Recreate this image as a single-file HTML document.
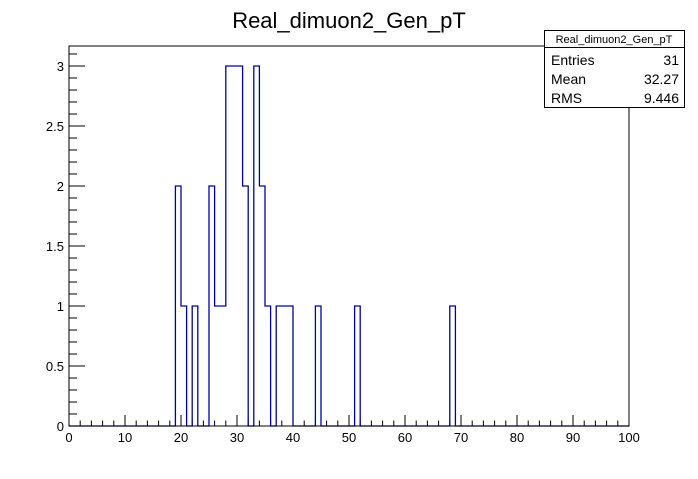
<!DOCTYPE html>
<html><head><meta charset="utf-8"><style>
body{margin:0;background:#fff;}
svg text{font-family:"Liberation Sans",sans-serif;}
</style></head><body>
<svg id="c" width="698" height="474" xmlns="http://www.w3.org/2000/svg">
<rect width="698" height="474" fill="#fff"/>
<text x="349" y="28" font-size="22" text-anchor="middle">Real_dimuon2_Gen_pT</text>
<g id="axes"></g>
<path id="hist" fill="none" stroke="#0000aa" stroke-width="1.3"/>
<rect x="69" y="46" width="560" height="380" fill="none" stroke="#000" stroke-width="1"/>
<g>
<rect x="544.5" y="30.5" width="140" height="77" fill="#fff" stroke="#000"/>
<line x1="544.5" y1="47.5" x2="684.5" y2="47.5" stroke="#000"/>
<text x="614" y="43" font-size="11" text-anchor="middle">Real_dimuon2_Gen_pT</text>
<text x="551" y="65" font-size="14">Entries</text><text x="679" y="65" font-size="14" text-anchor="end" id="s-entries">31</text>
<text x="551" y="84" font-size="14">Mean</text><text x="679" y="84" font-size="14" text-anchor="end">32.27</text>
<text x="551" y="103" font-size="14">RMS</text><text x="679" y="103" font-size="14" text-anchor="end">9.446</text>
</g>
</svg>
<script>
const binLow = [19,20,22,25,26,27,28,29,30,31,33,34,35,37,38,39,44,51,68];
const binCounts = [2,1,1,2,1,1,3,3,3,2,3,2,1,1,1,1,1,1,1];
const xTickLabels = ["0","10","20","30","40","50","60","70","80","90","100"];
const yTickLabels = ["0","0.5","1","1.5","2","2.5","3"];
const X0=69,X1=629,Y0=426,Y1=46,xMax=100,yMax=3.1667;
const sx=v=>X0+(v/xMax)*(X1-X0);
const sy=v=>Y0-(v/yMax)*(Y0-Y1);
const NS="http://www.w3.org/2000/svg";
const ax=document.getElementById('axes');
function ln(x1,y1,x2,y2){const l=document.createElementNS(NS,'line');l.setAttribute('x1',x1);l.setAttribute('y1',y1);l.setAttribute('x2',x2);l.setAttribute('y2',y2);l.setAttribute('stroke','#000');ax.appendChild(l);return l;}
function tx(x,y,s,anc){const t=document.createElementNS(NS,'text');t.setAttribute('x',x);t.setAttribute('y',y);t.setAttribute('font-size','13');t.setAttribute('text-anchor',anc);t.textContent=s;ax.appendChild(t);return t;}
for(let v=0;v<=100;v+=2){const maj=v%10===0;const l=ln(sx(v),Y0,sx(v),Y0-(maj?11:5.5));

}
xTickLabels.forEach(s=>{const t=tx(sx(+s),Y0+16,s,'middle');

});
for(let i=0;i<=31;i++){const v=i*0.1;const maj=i%5===0;const l=ln(X0,sy(v),X0+(maj?16:8),sy(v));

}
yTickLabels.forEach(s=>{const t=tx(X0-5,sy(+s)+5,s,'end');

});
// build step path
const counts=new Array(100).fill(0);
binLow.forEach((b,i)=>counts[b]=binCounts[i]);
let d=`M${sx(0)},${sy(0)}`;
for(let i=0;i<100;i++){d+=` L${sx(i)},${sy(counts[i])} L${sx(i+1)},${sy(counts[i])}`;}
document.getElementById('hist').setAttribute('d',d);
document.getElementById('s-entries').textContent=binCounts.reduce((a,b)=>a+b,0);
</script>
</body></html>
